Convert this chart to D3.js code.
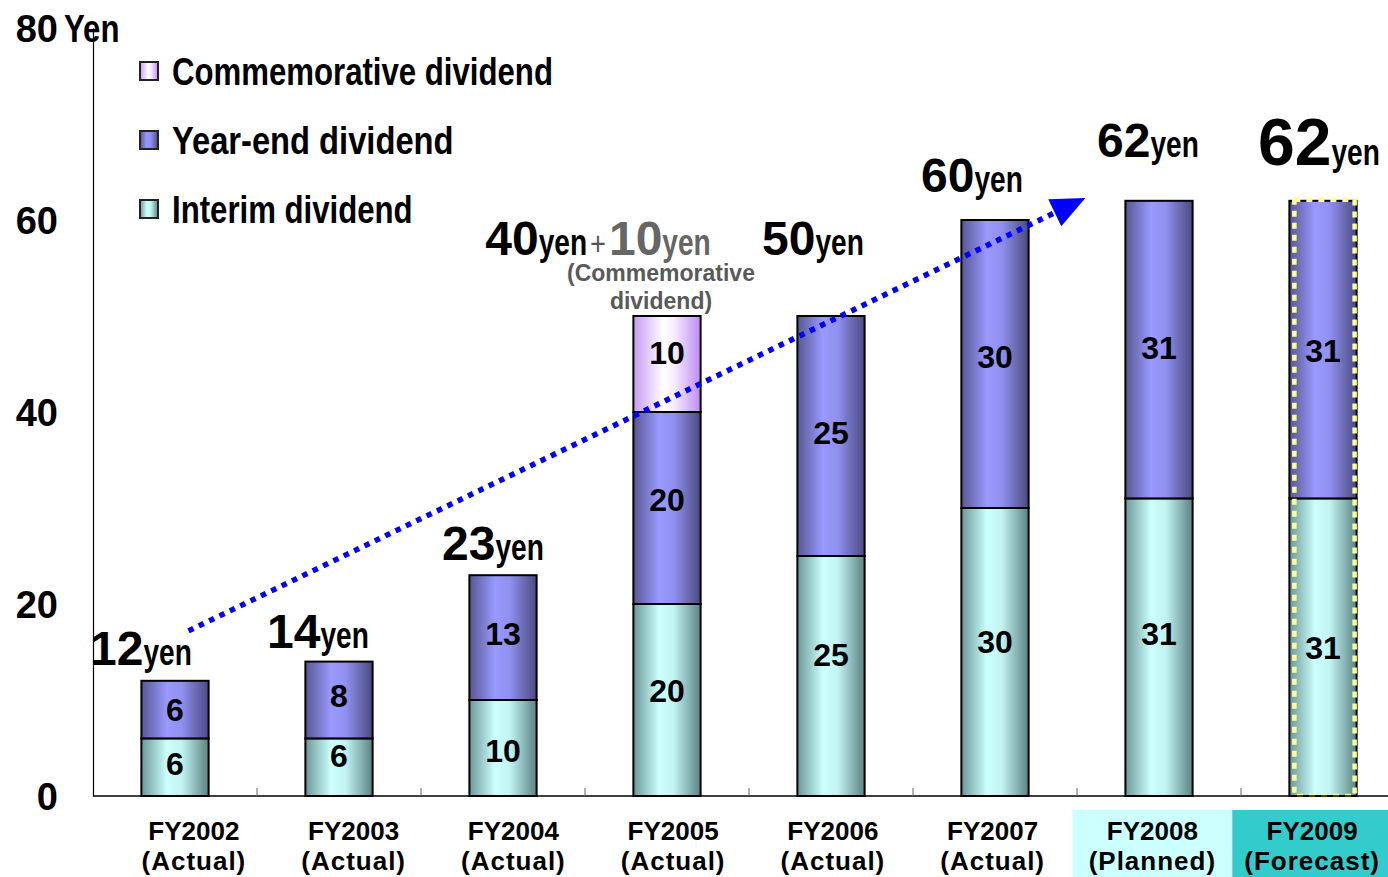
<!DOCTYPE html>
<html>
<head>
<meta charset="utf-8">
<script src="https://cdn.jsdelivr.net/npm/d3@7"></script>
<style>
  html, body { margin: 0; padding: 0; background: #fff; }
  svg { display: block; }
</style>
</head>
<body>
<svg id="chart" width="1388" height="877"></svg>
<script>
// ---- data ----
const years = ["FY2002", "FY2003", "FY2004", "FY2005", "FY2006", "FY2007", "FY2008", "FY2009"];
const phases = ["Actual", "Actual", "Actual", "Actual", "Actual", "Actual", "Planned", "Forecast"];
const interim = [6, 6, 10, 20, 25, 30, 31, 31];
const yearEnd = [6, 8, 13, 20, 25, 30, 31, 31];
const commemorative = [0, 0, 0, 10, 0, 0, 0, 0];
const yTicks = [0, 20, 40, 60, 80];
const seriesKeys = ["interim", "yearEnd", "commemorative"];
const legendOrder = ["commemorative", "yearEnd", "interim"];
const seriesNames = {
  commemorative: "Commemorative dividend",
  yearEnd: "Year-end dividend",
  interim: "Interim dividend"
};

// ---- layout ----
const W = 1388, H = 877;
const FONT = "'Liberation Sans', Arial, Helvetica, sans-serif";
const NARROW_FACTOR = 0.82;
// per-year nudge of the total label: [dx from bar centre, gap above bar top]
const totalLabelNudge = [[-34, 16], [-21, 14], [-10, 15], [-69, 61], [-18, 61], [-23, 28], [-11, 44], [-4, 36]];
// small vertical nudges for the in-bar value labels
const interimLabelDy = [-4, -12, 2, -10, -22, -11, -14, 0];
const yearEndLabelDy = [0, -5, -4, -9, -4, -8, -2, 1];

// squeeze a text run horizontally to imitate a condensed face
function condense(sel, factor = NARROW_FACTOR) {
  sel.each(function () {
    const w = this.getComputedTextLength();
    d3.select(this).attr("textLength", w * factor).attr("lengthAdjust", "spacingAndGlyphs");
  });
}

const svg = d3.select("#chart");
svg.append("rect").attr("width", W).attr("height", H).attr("fill", "#fff");

const x = d3.scaleBand().domain(years).range([93, 1405]).paddingInner(0.59).paddingOuter(0.295);
const y = d3.scaleLinear().domain([0, 80]).range([796, 28]);
const xLabel = d3.scaleBand().domain(years).range([114, 1392]);

// ---- gradients ----
const defs = svg.append("defs");
const gradStops = {
  interim: [[0, "#6c9797"], [0.38, "#ccffff"], [0.6, "#c2f3f3"], [1, "#5a8282"]],
  yearEnd: [[0, "#575792"], [0.38, "#9999ff"], [0.6, "#9090f0"], [1, "#4a4a7e"]],
  commemorative: [[0, "#c89af4"], [0.45, "#ffffff"], [0.6, "#f6eeff"], [1, "#c08af2"]]
};
Object.entries(gradStops).forEach(([k, stops]) => {
  const g = defs.append("linearGradient").attr("id", "g-" + k)
    .attr("x1", "0%").attr("x2", "100%").attr("y1", "0%").attr("y2", "0%");
  stops.forEach(([o, c]) => g.append("stop").attr("offset", o).attr("stop-color", c));
});

// ---- stacked bars ----
const rows = years.map((yr, i) => ({
  year: yr, interim: interim[i], yearEnd: yearEnd[i], commemorative: commemorative[i]
}));
const stacked = d3.stack().keys(seriesKeys)(rows);

const barG = svg.append("g");
stacked.forEach(layer => {
  barG.selectAll(null)
    .data(layer.filter(d => d[1] - d[0] > 0))
    .join("rect")
    .attr("x", d => x(d.data.year))
    .attr("y", d => y(d[1]))
    .attr("width", x.bandwidth())
    .attr("height", d => y(d[0]) - y(d[1]))
    .attr("fill", "url(#g-" + layer.key + ")")
    .attr("stroke", "#000")
    .attr("stroke-width", 2);
});

// value labels inside the segments
const labelDy = { interim: interimLabelDy, yearEnd: yearEndLabelDy, commemorative: years.map(() => -12) };
stacked.forEach(layer => {
  barG.selectAll(null)
    .data(layer.map((d, i) => ({ d, i })).filter(o => o.d[1] - o.d[0] > 0))
    .join("text")
    .attr("x", o => x(o.d.data.year) + x.bandwidth() / 2)
    .attr("y", o => y((o.d[0] + o.d[1]) / 2) + labelDy[layer.key][o.i])
    .attr("dy", "0.36em")
    .attr("text-anchor", "middle")
    .attr("font-family", FONT)
    .attr("font-weight", "bold")
    .attr("font-size", 32)
    .attr("fill", "#000")
    .text(o => o.d[1] - o.d[0]);
});

// highlight frame on the forecast bar
const fy = years[years.length - 1];
const fyTotal = interim[years.length - 1] + yearEnd[years.length - 1];
svg.append("rect")
  .attr("x", x(fy) + 5)
  .attr("y", y(fyTotal) - 1)
  .attr("width", x.bandwidth() - 7)
  .attr("height", y(0) - y(fyTotal) + 1)
  .attr("fill", "none")
  .attr("stroke", "#ffff99")
  .attr("stroke-width", 4.5)
  .attr("stroke-dasharray", "6 6");

// ---- axes ----
const yAxis = svg.append("g")
  .attr("transform", "translate(93,0)")
  .call(d3.axisLeft(y).tickValues(yTicks).tickSize(0).tickSizeOuter(0).tickPadding(35));
yAxis.select(".domain").attr("stroke", "#000").attr("stroke-width", 1.2);
yAxis.selectAll(".tick text")
  .attr("font-family", FONT)
  .attr("font-weight", "bold")
  .attr("font-size", 38)
  .attr("fill", "#000")
  .attr("dy", "0.36em");
yAxis.attr("font-family", null).attr("font-size", null);

svg.append("text")
  .attr("x", 64).attr("y", y(80)).attr("dy", "0.36em")
  .attr("font-family", FONT).attr("font-weight", "bold").attr("font-size", 38)
  .attr("fill", "#000")
  .text("Yen")
  .call(condense);

// x axis line with boundary ticks
svg.append("line")
  .attr("x1", 93).attr("x2", W).attr("y1", y(0)).attr("y2", y(0))
  .attr("stroke", "#000").attr("stroke-width", 1.5);
const gap = (x.step() - x.bandwidth()) / 2;
svg.append("g").selectAll("line")
  .data(years.slice(1))
  .join("line")
  .attr("x1", d => x(d) - gap).attr("x2", d => x(d) - gap)
  .attr("y1", y(0)).attr("y2", y(0) - 8)
  .attr("stroke", "#666").attr("stroke-width", 1);

// category labels
const phaseFill = { Planned: "#ccffff", Forecast: "#33cccc" };
const catG = svg.append("g");
catG.selectAll("rect")
  .data(years.map((yr, i) => ({ yr, ph: phases[i] })).filter(o => phaseFill[o.ph]))
  .join("rect")
  .attr("x", o => xLabel(o.yr))
  .attr("y", 810)
  .attr("width", xLabel.bandwidth())
  .attr("height", H - 810)
  .attr("fill", o => phaseFill[o.ph]);
const catText = catG.selectAll("text")
  .data(years.map((yr, i) => ({ yr, ph: phases[i] })))
  .join("text")
  .attr("text-anchor", "middle")
  .attr("font-family", FONT)
  .attr("font-weight", "bold")
  .attr("font-size", 26)
  .attr("fill", "#000");
catText.append("tspan")
  .attr("x", o => xLabel(o.yr) + xLabel.bandwidth() / 2)
  .attr("y", 840)
  .text(o => o.yr);
catText.append("tspan")
  .attr("x", o => xLabel(o.yr) + xLabel.bandwidth() / 2)
  .attr("y", 870)
  .attr("letter-spacing", 1)
  .text(o => "(" + o.ph + ")");

// ---- total labels above the bars ----
const totG = svg.append("g");
years.forEach((yr, i) => {
  const base = interim[i] + yearEnd[i];
  const top = base + commemorative[i];
  const [dx, lift] = totalLabelNudge[i];
  const big = i === years.length - 1;
  const t = totG.append("text")
    .attr("x", x(yr) + x.bandwidth() / 2 + dx)
    .attr("y", y(top) - lift)
    .attr("text-anchor", "middle")
    .attr("font-family", FONT)
    .attr("font-weight", "bold")
    .attr("fill", "#000");
  t.append("tspan").attr("font-size", big ? 66 : 48).text(base);
  t.append("tspan").attr("font-size", 36).text("yen").call(condense, 0.78);
  if (commemorative[i] > 0) {
    t.append("tspan").attr("font-weight", "normal").attr("dx", 3)
      .attr("font-size", 34).attr("fill", "#555").text("+").call(condense, 0.8);
    t.append("tspan").attr("font-size", 48).attr("fill", "#666").attr("dx", 3)
      .text(commemorative[i]);
    t.append("tspan").attr("font-size", 36).attr("fill", "#666")
      .text("yen").call(condense, 0.78);
    const note = totG.append("text")
      .attr("text-anchor", "middle")
      .attr("font-family", FONT)
      .attr("font-weight", "bold")
      .attr("font-size", 23)
      .attr("fill", "#595959");
    const cx = x(yr) + x.bandwidth() / 2 - 6;
    note.append("tspan").attr("x", cx).attr("y", y(top) - 35).text("(Commemorative");
    note.append("tspan").attr("x", cx).attr("y", y(top) - 7).text("dividend)");
  }
});

// ---- growth arrow ----
const ax1 = x(years[0]) + x.bandwidth() * 0.7, ay1 = y(17.2);
const ax2 = x(years[6]) - 40, ay2 = y(62.3);
const len = Math.hypot(ax2 - ax1, ay2 - ay1);
const ux = (ax2 - ax1) / len, uy = (ay2 - ay1) / len;
const headLen = 34, headHalf = 15;
const bx = ax2 - ux * headLen, by = ay2 - uy * headLen;
svg.append("line")
  .attr("x1", ax1).attr("y1", ay1).attr("x2", bx + ux * 2).attr("y2", by + uy * 2)
  .attr("stroke", "#0000ff").attr("stroke-width", 5.5)
  .attr("stroke-dasharray", "5.5 6");
svg.append("polygon")
  .attr("points", [
    [ax2, ay2],
    [bx - uy * headHalf, by + ux * headHalf],
    [bx + uy * headHalf, by - ux * headHalf]
  ].map(p => p.join(",")).join(" "))
  .attr("fill", "#0000ff");

// ---- legend ----
const legG = svg.append("g");
legendOrder.forEach((k, i) => {
  const cy = 71 + i * 69;
  legG.append("rect")
    .attr("x", 140).attr("y", cy - 9).attr("width", 18).attr("height", 18)
    .attr("fill", "url(#g-" + k + ")")
    .attr("stroke", "#222").attr("stroke-width", 2);
  legG.append("text")
    .attr("x", 172).attr("y", cy).attr("dy", "0.36em")
    .attr("font-family", FONT).attr("font-weight", "bold").attr("font-size", 38)
    .attr("fill", "#000")
    .text(seriesNames[k])
    .call(condense, k === "yearEnd" ? 0.86 : NARROW_FACTOR);
});
</script>
</body>
</html>
